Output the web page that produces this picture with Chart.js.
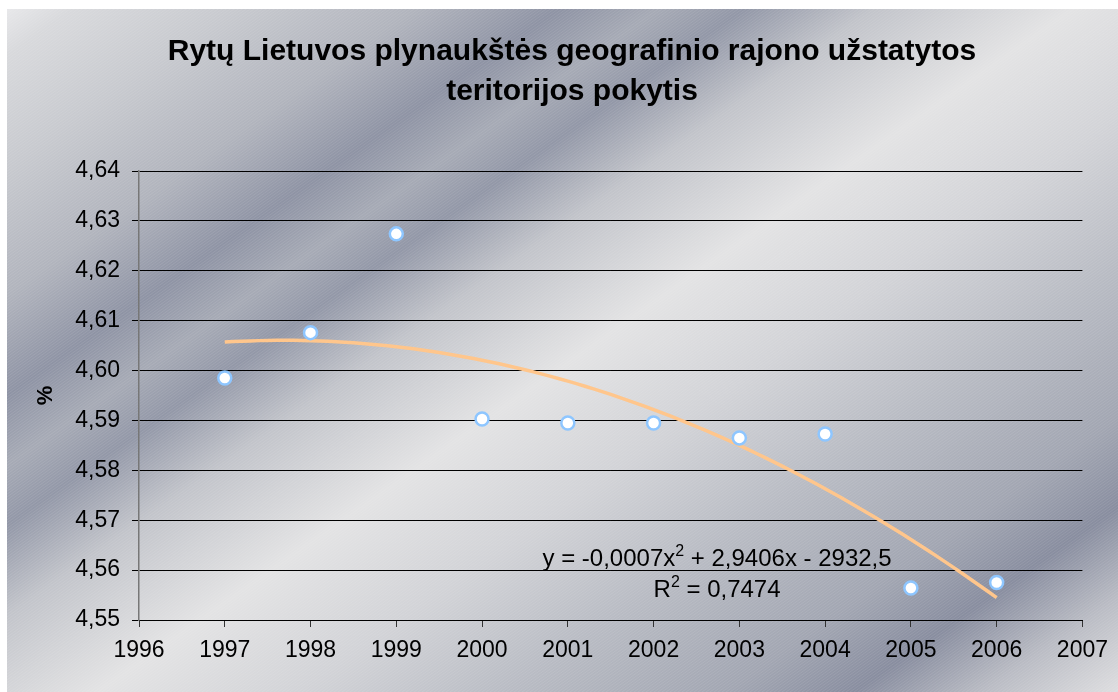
<!DOCTYPE html>
<html>
<head>
<meta charset="utf-8">
<script src="https://cdn.jsdelivr.net/npm/chart.js@4/dist/chart.umd.min.js"></script>
<style>
  html, body { margin: 0; padding: 0; background: #fff; overflow: hidden; }
  #wrap { width: 1118px; height: 692px; }
  canvas { display: block; }
</style>
</head>
<body>
<div id="wrap"><canvas id="trendChart" width="1118" height="692"></canvas></div>
<script>
const years = [1997, 1998, 1999, 2000, 2001, 2002, 2003, 2004, 2005, 2006];
const builtUpShare = [4.5985, 4.6076, 4.6274, 4.5903, 4.5895, 4.5895, 4.5865, 4.5873, 4.5564, 4.5575];
const yTicks = [4.55, 4.56, 4.57, 4.58, 4.59, 4.60, 4.61, 4.62, 4.63, 4.64];
const xTicks = [1996, 1997, 1998, 1999, 2000, 2001, 2002, 2003, 2004, 2005, 2006, 2007];
const titleLines = ["Rytų Lietuvos plynaukštės geografinio rajono užstatytos", "teritorijos pokytis"];
// [text, superscript?]
const equationParts = [["y = -0,0007x", false], ["2", true], [" + 2,9406x - 2932,5", false]];
const r2Parts = [["R", false], ["2", true], [" = 0,7474", false]];

const FONT = "'Liberation Sans', Arial, sans-serif";

// least squares quadratic fit (same as the Excel trendline)
function fitQuadratic(xs, ys) {
  const x0 = xs[0];
  let s = [0, 0, 0, 0, 0], t = [0, 0, 0];
  xs.forEach((xv, i) => {
    const x = xv - x0;
    for (let k = 0; k < 5; k++) s[k] += Math.pow(x, k);
    for (let k = 0; k < 3; k++) t[k] += ys[i] * Math.pow(x, k);
  });
  const m = [[s[0], s[1], s[2], t[0]], [s[1], s[2], s[3], t[1]], [s[2], s[3], s[4], t[2]]];
  for (let i = 0; i < 3; i++) {
    for (let j = i + 1; j < 3; j++) {
      const f = m[j][i] / m[i][i];
      for (let k = i; k < 4; k++) m[j][k] -= f * m[i][k];
    }
  }
  const c = [0, 0, 0];
  for (let i = 2; i >= 0; i--) {
    let v = m[i][3];
    for (let k = i + 1; k < 3; k++) v -= m[i][k] * c[k];
    c[i] = v / m[i][i];
  }
  return (xv) => c[0] + c[1] * (xv - x0) + c[2] * (xv - x0) * (xv - x0);
}

const trend = fitQuadratic(years, builtUpShare);
const trendPoints = [];
for (let i = 0; i <= 90; i++) {
  const xv = years[0] + i * (years[years.length - 1] - years[0]) / 90;
  trendPoints.push({ x: xv, y: trend(xv) });
}

// chrome-like background: stops along t = 0.7x + y
const bgStops = [
  [0, "#ececee"], [60, "#d8d9dc"], [170, "#c8cacf"], [300, "#b1b4bd"], [400, "#8e93a4"],
  [470, "#a6aab5"], [530, "#9297a7"], [620, "#c2c4ca"], [760, "#e3e3e4"], [900, "#d2d3d7"],
  [1050, "#b8bbc3"], [1200, "#a2a6b2"], [1290, "#888d9f"], [1380, "#babcc4"], [1475, "#dedee0"],
];

const backgroundPlugin = {
  id: "steelBackground",
  beforeDraw(chart) {
    const ctx = chart.ctx;
    const w = chart.width, h = chart.height;
    ctx.save();
    ctx.fillStyle = "#ffffff";
    ctx.fillRect(0, 0, w, h);
    const g = ctx.createLinearGradient(0, 0, 693, 990);
    bgStops.forEach(([t, c]) => g.addColorStop(t / 1475, c));
    ctx.fillStyle = g;
    ctx.fillRect(7, 9, w, h);
    // fine diagonal hatch
    ctx.beginPath();
    ctx.rect(7, 9, w, h);
    ctx.clip();
    ctx.beginPath();
    ctx.strokeStyle = "rgba(255,255,255,0.10)";
    ctx.lineWidth = 1;
    for (let x0 = -h * 1.5; x0 < w + h; x0 += 4) {
      ctx.moveTo(x0, h);
      ctx.lineTo(x0 + h * 1.4, 0);
    }
    ctx.stroke();
    ctx.restore();
  },
};

const titlePlugin = {
  id: "chartHeading",
  afterDraw(chart) {
    const ctx = chart.ctx;
    ctx.save();
    ctx.fillStyle = "#000";
    ctx.font = "bold 30px " + FONT;
    ctx.textAlign = "center";
    ctx.textBaseline = "alphabetic";
    ctx.fillText(titleLines[0], 572, 60);
    ctx.fillText(titleLines[1], 572, 100);
    ctx.restore();
  },
};

function drawRichLine(ctx, parts, cx, baseline) {
  const mainFont = "24px " + FONT, supFont = "16px " + FONT;
  let total = 0;
  parts.forEach(([txt, sup]) => {
    ctx.font = sup ? supFont : mainFont;
    total += ctx.measureText(txt).width;
  });
  let x = cx - total / 2;
  parts.forEach(([txt, sup]) => {
    ctx.font = sup ? supFont : mainFont;
    ctx.fillText(txt, x, sup ? baseline - 10 : baseline);
    x += ctx.measureText(txt).width;
  });
}

const equationPlugin = {
  id: "trendEquation",
  afterDatasetsDraw(chart) {
    const ctx = chart.ctx;
    const xs = chart.scales.x, ys = chart.scales.y;
    ctx.save();
    ctx.fillStyle = "#000";
    ctx.textAlign = "left";
    ctx.textBaseline = "alphabetic";
    const cx = xs.getPixelForValue(2002.74);
    drawRichLine(ctx, equationParts, cx, ys.getPixelForValue(4.5608));
    drawRichLine(ctx, r2Parts, cx, ys.getPixelForValue(4.5546));
    ctx.restore();
  },
};

const ctx = document.getElementById("trendChart").getContext("2d");
const trendChart = new Chart(ctx, {
  type: "scatter",
  data: {
    datasets: [
      {
        label: "Užstatyta teritorija",
        data: years.map((y, i) => ({ x: y, y: builtUpShare[i] })),
        pointRadius: 6.5,
        pointBorderWidth: 2.5,
        pointBackgroundColor: "#ffffff",
        pointBorderColor: "#8ec6ff",
        order: 1,
      },
      {
        label: "Trendas",
        type: "line",
        data: trendPoints,
        borderColor: "#ffc68c",
        borderWidth: 3.5,
        pointRadius: 0,
        fill: false,
        tension: 0,
        order: 2,
      },
    ],
  },
  options: {
    responsive: false,
    animation: false,
    layout: { padding: { left: 0, right: 25, top: 171, bottom: 0 } },
    plugins: {
      legend: { display: false },
      tooltip: { enabled: false },
      title: { display: false },
    },
    scales: {
      x: {
        type: "linear",
        min: xTicks[0],
        max: xTicks[xTicks.length - 1],
        afterBuildTicks: (scale) => { scale.ticks = xTicks.map((v) => ({ value: v })); },
        afterFit: (scale) => { scale.height = 72; },
        ticks: {
          color: "#000",
          padding: 10,
          font: { size: 23, family: FONT },
          callback: (v) => String(v),
        },
        grid: { drawOnChartArea: false, drawTicks: true, tickLength: 7, color: "#333" },
        border: { display: true, color: "#000", width: 1 },
      },
      y: {
        min: yTicks[0],
        max: yTicks[yTicks.length - 1],
        afterBuildTicks: (scale) => { scale.ticks = yTicks.map((v) => ({ value: v })); },
        afterFit: (scale) => { scale.width = 139; },
        ticks: {
          color: "#000",
          padding: 12,
          font: { size: 23, family: FONT },
          callback: (v) => v.toFixed(2).replace(".", ","),
        },
        grid: { color: "#000", lineWidth: 1, tickLength: 7, drawTicks: true },
        border: { display: true, color: "#777", width: 1.5 },
        title: {
          display: true,
          text: "%",
          color: "#000",
          font: { size: 22, weight: "bold", family: FONT },
          padding: { top: 33, bottom: 0 },
        },
      },
    },
  },
  plugins: [backgroundPlugin, titlePlugin, equationPlugin],
});
</script>
</body>
</html>
